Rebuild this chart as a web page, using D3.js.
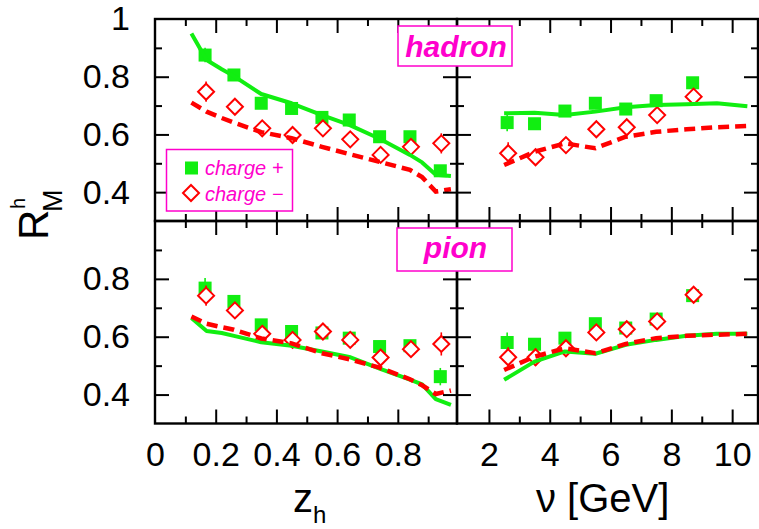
<!DOCTYPE html>
<html>
<head>
<meta charset="utf-8">
<script src="https://cdn.jsdelivr.net/npm/d3@7"></script>
<style>
  html, body { margin: 0; padding: 0; background: #fff; }
  svg { display: block; }
</style>
</head>
<body>
<svg id="chart" width="759" height="529"></svg>
<script>
// ---- measured points: attenuation ratio R_M^h for positive / negative hadrons and pions ----
const zBins = [0.165, 0.26, 0.35, 0.45, 0.55, 0.64, 0.74, 0.84, 0.94];
const hadronZPlus     = [0.875, 0.806, 0.708, 0.690, 0.659, 0.650, 0.592, 0.592, 0.474];
const hadronZPlusErr  = [0.025, 0.010, 0.010, 0.010, 0.010, 0.010, 0.010, 0.015, 0.020];
const hadronZMinus    = [0.748, 0.696, 0.621, 0.598, 0.621, 0.583, 0.529, 0.557, 0.569];
const hadronZMinusErr = [0.035, 0.015, 0.010, 0.010, 0.010, 0.010, 0.012, 0.015, 0.035];
const pionZPlus       = [0.768, 0.722, 0.641, 0.618, 0.613, 0.595, 0.566, 0.569, 0.462];
const pionZPlusErr    = [0.035, 0.015, 0.010, 0.010, 0.010, 0.010, 0.015, 0.015, 0.030];
const pionZMinus      = [0.742, 0.691, 0.610, 0.589, 0.618, 0.589, 0.528, 0.557, 0.575];
const pionZMinusErr   = [0.035, 0.015, 0.015, 0.015, 0.010, 0.010, 0.015, 0.015, 0.040];

const nuBins = [2.6, 3.5, 4.5, 5.5, 6.5, 7.5, 8.7];
const hadronNuPlus     = [0.641, 0.637, 0.681, 0.708, 0.688, 0.717, 0.779];
const hadronNuPlusErr  = [0.030, 0.010, 0.010, 0.010, 0.010, 0.010, 0.010];
const hadronNuMinus    = [0.535, 0.521, 0.563, 0.618, 0.625, 0.667, 0.731];
const hadronNuMinusErr = [0.038, 0.012, 0.010, 0.010, 0.010, 0.010, 0.010];
const pionNuPlus       = [0.580, 0.574, 0.595, 0.645, 0.630, 0.661, 0.742];
const pionNuPlusErr    = [0.035, 0.012, 0.010, 0.010, 0.010, 0.010, 0.010];
const pionNuMinus      = [0.529, 0.529, 0.560, 0.615, 0.626, 0.653, 0.745];
const pionNuMinusErr   = [0.035, 0.030, 0.028, 0.010, 0.010, 0.010, 0.010];

// ---- model curves ----
const zGrid = [0.12, 0.17, 0.22, 0.26, 0.35, 0.45, 0.55, 0.64, 0.74, 0.84, 0.88, 0.925, 0.975];
const hadronZModelPlus  = [0.950, 0.858, 0.826, 0.802, 0.740, 0.708, 0.667, 0.633, 0.585, 0.529, 0.503, 0.460, 0.456];
const hadronZModelMinus = [0.710, 0.679, 0.657, 0.641, 0.608, 0.587, 0.557, 0.532, 0.505, 0.477, 0.452, 0.402, 0.410];
const pionZModelPlus    = [0.665, 0.620, 0.613, 0.603, 0.581, 0.569, 0.549, 0.530, 0.490, 0.452, 0.435, 0.384, 0.364];
const pionZModelMinus   = [0.670, 0.645, 0.633, 0.624, 0.594, 0.577, 0.543, 0.522, 0.493, 0.453, 0.432, 0.402, 0.414];

const nuGrid = [2.5, 3.5, 4.5, 5.5, 6.5, 7.5, 8.5, 9.5, 10.5];
const hadronNuModelPlus  = [0.673, 0.675, 0.667, 0.679, 0.694, 0.702, 0.705, 0.708, 0.698];
const hadronNuModelMinus = [0.494, 0.540, 0.569, 0.552, 0.592, 0.609, 0.618, 0.625, 0.629];
const pionNuModelPlus    = [0.451, 0.514, 0.549, 0.541, 0.572, 0.589, 0.603, 0.610, 0.610];
const pionNuModelMinus   = [0.485, 0.531, 0.560, 0.543, 0.575, 0.595, 0.603, 0.607, 0.610];

// ---- tick values / labels ----
const zMajor = [0.2, 0.4, 0.6, 0.8];
const zMinor = [0.1, 0.3, 0.5, 0.7, 0.9];
const zLabels = [0, 0.2, 0.4, 0.6, 0.8];
const nuMajor = [2, 4, 6, 8, 10];
const nuMinor = [3, 5, 7, 9];
const nuLabels = [2, 4, 6, 8, 10];
const rMajor = [0.4, 0.6, 0.8];
const rMinor = [0.5, 0.7, 0.9];
const rLabelsTop = [0.4, 0.6, 0.8, 1.0];
const rLabelsBottom = [0.4, 0.6, 0.8];
const panelNames = ["hadron", "pion"];
const legendNames = ["charge +", "charge \u2212"];

// ---- styling ----
const GREEN = "#11ee11";
const RED = "#ff0000";
const MAGENTA = "#ff00cc";
const FONT = "'Liberation Sans', Arial, Helvetica, sans-serif";

const svg = d3.select("#chart");

// scales
const xZ  = d3.scaleLinear().domain([0, 0.995]).range([155, 457]);
const xNu = d3.scaleLinear().domain([0.95, 10.85]).range([457, 758]);
const yTop = d3.scaleLinear().domain([0.3, 1.0]).range([221, 19]);
const yBot = d3.scaleLinear().domain([0.3, 1.0]).range([423.5, 221]);

function tickSet(g, axis, values, size) {
  g.call(axis.tickValues(values).tickSize(size).tickFormat(""));
  g.select(".domain").remove();
  g.selectAll(".tick line").attr("stroke", "#000").attr("stroke-width", 2);
}

// inward ticks (long majors, short minors) on all four edges, then the frame
function drawFrame(x, y, xMaj, xMin) {
  const [x0, x1] = x.range();
  const [yb, yt] = y.range();
  const g = svg.append("g");
  const sides = [
    [() => d3.axisBottom(x), `translate(0,${yt})`, xMaj, xMin],
    [() => d3.axisTop(x), `translate(0,${yb})`, xMaj, xMin],
    [() => d3.axisRight(y), `translate(${x0},0)`, rMajor, rMinor],
    [() => d3.axisLeft(y), `translate(${x1},0)`, rMajor, rMinor]
  ];
  sides.forEach(([mk, tr, maj, min]) => {
    tickSet(g.append("g").attr("transform", tr), mk(), maj, 14);
    tickSet(g.append("g").attr("transform", tr), mk(), min, 7);
  });
  g.append("rect")
    .attr("x", x0).attr("y", yt)
    .attr("width", x1 - x0).attr("height", yb - yt)
    .attr("fill", "none").attr("stroke", "#000").attr("stroke-width", 2.4);
}

function drawData(x, y, xs, plus, plusErr, minus, minusErr, grid, modelPlus, modelMinus) {
  const g = svg.append("g");
  // error bars and markers
  g.selectAll(".ep").data(xs).join("line")
    .attr("x1", (d) => x(d)).attr("x2", (d) => x(d))
    .attr("y1", (d, i) => y(plus[i] - plusErr[i]))
    .attr("y2", (d, i) => y(plus[i] + plusErr[i]))
    .attr("stroke", GREEN).attr("stroke-width", 1.6);
  g.selectAll(".sq").data(xs).join("rect")
    .attr("x", (d) => x(d) - 6.5).attr("y", (d, i) => y(plus[i]) - 6.5)
    .attr("width", 13).attr("height", 13).attr("fill", GREEN);
  g.selectAll(".em").data(xs).join("line")
    .attr("x1", (d) => x(d) + 1).attr("x2", (d) => x(d) + 1)
    .attr("y1", (d, i) => y(minus[i] - minusErr[i]))
    .attr("y2", (d, i) => y(minus[i] + minusErr[i]))
    .attr("stroke", RED).attr("stroke-width", 1.6);
  g.selectAll(".di").data(xs).join("path")
    .attr("d", (d, i) => {
      const cx = x(d) + 1, cy = y(minus[i]), r = 8;
      return `M${cx},${cy - r}L${cx + r},${cy}L${cx},${cy + r}L${cx - r},${cy}Z`;
    })
    .attr("fill", "#fff").attr("stroke", RED).attr("stroke-width", 2);

  // model curves
  const line = (vals) => d3.line().x((d) => x(d)).y((d, i) => y(vals[i]));
  g.append("path").attr("d", line(modelPlus)(grid))
    .attr("fill", "none").attr("stroke", GREEN).attr("stroke-width", 4)
    .attr("stroke-linejoin", "round");
  g.append("path").attr("d", line(modelMinus)(grid))
    .attr("fill", "none").attr("stroke", RED).attr("stroke-width", 4.5)
    .attr("stroke-dasharray", "11,6");
}

drawData(xZ, yTop, zBins, hadronZPlus, hadronZPlusErr, hadronZMinus, hadronZMinusErr,
  zGrid, hadronZModelPlus, hadronZModelMinus);
drawData(xNu, yTop, nuBins, hadronNuPlus, hadronNuPlusErr, hadronNuMinus, hadronNuMinusErr,
  nuGrid, hadronNuModelPlus, hadronNuModelMinus);
drawData(xZ, yBot, zBins, pionZPlus, pionZPlusErr, pionZMinus, pionZMinusErr,
  zGrid, pionZModelPlus, pionZModelMinus);
drawData(xNu, yBot, nuBins, pionNuPlus, pionNuPlusErr, pionNuMinus, pionNuMinusErr,
  nuGrid, pionNuModelPlus, pionNuModelMinus);

drawFrame(xZ, yTop, zMajor, zMinor);
drawFrame(xNu, yTop, nuMajor, nuMinor);
drawFrame(xZ, yBot, zMajor, zMinor);
drawFrame(xNu, yBot, nuMajor, nuMinor);

// tick labels
function styleLabels(g, size) {
  g.select(".domain").remove();
  g.attr("font-family", null).attr("font-size", null);
  g.selectAll("text").style("font-family", FONT).style("font-size", size + "px").attr("fill", "#000");
}
const rFmt = (d) => (d === 1 ? "1" : d.toFixed(1));
svg.append("g").attr("transform", "translate(155,0)")
  .call(d3.axisLeft(yTop).tickValues(rLabelsTop).tickSize(0).tickPadding(25).tickFormat(rFmt))
  .call((g) => styleLabels(g, 34));
svg.append("g").attr("transform", "translate(155,0)")
  .call(d3.axisLeft(yBot).tickValues(rLabelsBottom).tickSize(0).tickPadding(25).tickFormat(rFmt))
  .call((g) => styleLabels(g, 34));
svg.append("g").attr("transform", "translate(0,423.5)")
  .call(d3.axisBottom(xZ).tickValues(zLabels).tickSize(0).tickPadding(18)
    .tickFormat((d) => (d === 0 ? "0" : d.toFixed(1))))
  .call((g) => styleLabels(g, 34));
svg.append("g").attr("transform", "translate(0,423.5)")
  .call(d3.axisBottom(xNu).tickValues(nuLabels).tickSize(0).tickPadding(18).tickFormat(d3.format("d")))
  .call((g) => styleLabels(g, 34));

// axis titles
const zt = svg.append("text").attr("x", 293).attr("y", 512)
  .style("font-family", FONT).style("font-size", "40px");
zt.append("tspan").text("z");
zt.append("tspan").attr("dy", 11).style("font-size", "24px").text("h");

svg.append("text").attr("x", 536).attr("y", 512)
  .style("font-family", FONT).style("font-size", "40px").text("\u03bd [GeV]");

const yt = svg.append("text").attr("transform", "translate(48,240) rotate(-90)")
  .style("font-family", FONT).style("font-size", "42px");
yt.append("tspan").text("R");
yt.append("tspan").attr("x", 31).attr("y", -23).style("font-size", "20px").text("h");
yt.append("tspan").attr("x", 28).attr("y", 14).style("font-size", "27px").text("M");

// panel name boxes
const boxes = [
  { name: panelNames[0], x: 398, y: 26, w: 114, h: 40, base: 57 },
  { name: panelNames[1], x: 397, y: 228, w: 115, h: 43, base: 258 }
];
boxes.forEach((b) => {
  svg.append("rect").attr("x", b.x).attr("y", b.y).attr("width", b.w).attr("height", b.h)
    .attr("fill", "#fff").attr("stroke", MAGENTA).attr("stroke-width", 1.5);
  svg.append("text").attr("x", b.x + b.w / 2 + 1).attr("y", b.base)
    .attr("text-anchor", "middle")
    .style("font-family", FONT).style("font-size", "30px")
    .style("font-weight", "bold").style("font-style", "italic")
    .attr("fill", MAGENTA).text(b.name);
});

// legend
const lg = svg.append("g");
lg.append("rect").attr("x", 166.5).attr("y", 149.5).attr("width", 126).attr("height", 61.5)
  .attr("fill", "#fff").attr("stroke", MAGENTA).attr("stroke-width", 1.5);
lg.append("rect").attr("x", 185).attr("y", 161.5).attr("width", 13).attr("height", 13).attr("fill", GREEN);
lg.append("path").attr("d", "M191,185L199,193L191,201L183,193Z")
  .attr("fill", "#fff").attr("stroke", RED).attr("stroke-width", 2);
legendNames.forEach((t, i) => {
  lg.append("text").attr("x", 205).attr("y", 175 + i * 25.5)
    .style("font-family", FONT).style("font-size", "20px").style("font-style", "italic")
    .attr("fill", MAGENTA).text(t);
});
</script>
</body>
</html>
